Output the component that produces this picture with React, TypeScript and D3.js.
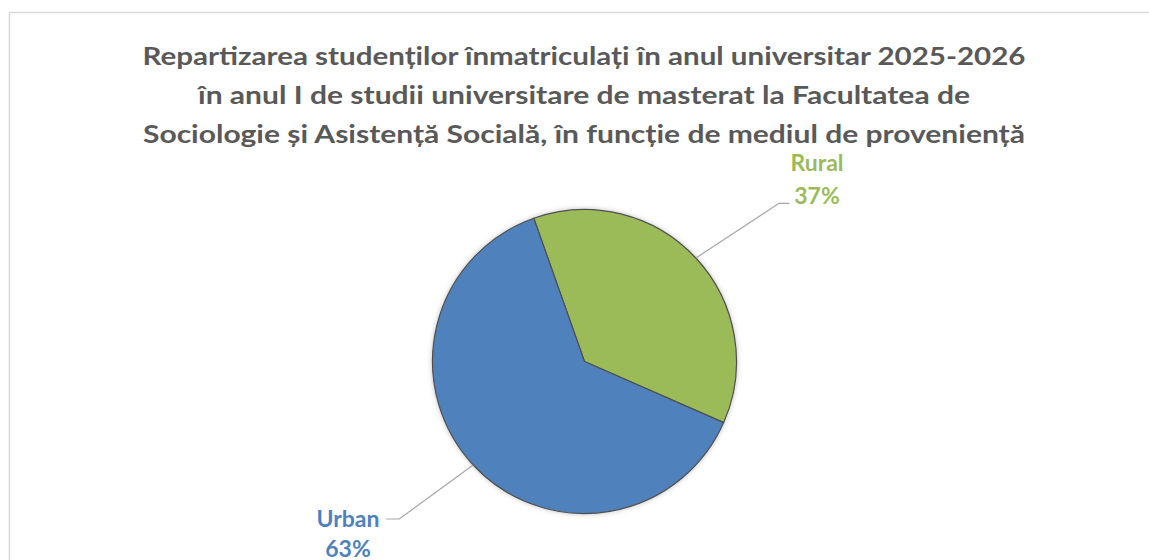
import React from "react";
import * as d3 from "d3";

const categories = ["Rural", "Urban"];
const values = [37, 63];
const labels = ["37%", "63%"];
const colors = ["#9BBB59", "#4F81BD"];
const titleLines = [
  "Repartizarea studenților înmatriculați în anul universitar 2025-2026",
  "în anul I de studii universitare de masterat la Facultatea de",
  "Sociologie și Asistență Socială, în funcție de mediul de proveniență",
];

const W = 1149;
const H = 560;
const cx = 584.5;
const cy = 361.5;
const R = 152;
const startDeg = -19.5;

export default function App() {
  const pie = d3
    .pie<number>()
    .sort(null)
    .startAngle((startDeg * Math.PI) / 180)
    .endAngle(((startDeg + 360) * Math.PI) / 180)(values);
  const arc = d3.arc<d3.PieArcDatum<number>>().innerRadius(0).outerRadius(R);

  const titleBaselines = [65, 104, 143];
  const titleWidths = [883, 772, 882];

  const labelLayout = [
    { elbow: [779, 203.3], end: [789.3, 203.3], tx: 817, ty1: 171, ty2: 204, w1: 57, w2: 46 },
    { elbow: [399.3, 519], end: [386, 519], tx: 348, ty1: 527, ty2: 557, w1: 66, w2: 47 },
  ];

  return (
    <svg
      width={W}
      height={H}
      style={{ position: "absolute", left: 0, top: 0, background: "#fff" }}
      fontFamily="Lato, 'Open Sans', sans-serif"
    >
      <defs>
        <filter id="sh" x="-20%" y="-20%" width="140%" height="140%">
          <feDropShadow dx="0" dy="0" stdDeviation="2.5" floodColor="#000" floodOpacity="0.25" />
        </filter>
      </defs>
      <rect x={9.5} y={12.5} width={1150} height={560} fill="#fff" stroke="#D9D9D9" strokeWidth={1.5} />
      {titleLines.map((t, i) => (
        <text
          key={i}
          x={584}
          y={titleBaselines[i]}
          textAnchor="middle"
          fontSize={24}
          fontWeight="bold"
          fill="#595959"
          textLength={titleWidths[i]}
          lengthAdjust="spacingAndGlyphs"
        >
          {t}
        </text>
      ))}
      <g transform={`translate(${cx},${cy})`} filter="url(#sh)">
        {pie.map((d, i) => (
          <path key={categories[i]} d={arc(d) || ""} fill={colors[i]} stroke="#505050" strokeWidth={1.2} strokeLinejoin="round" />
        ))}
      </g>
      {pie.map((d, i) => {
        const mid = (d.startAngle + d.endAngle) / 2;
        const sx = cx + Math.sin(mid) * R;
        const sy = cy - Math.cos(mid) * R;
        const L = labelLayout[i];
        return (
          <g key={"l" + i}>
            <polyline
              points={`${sx},${sy} ${L.elbow[0]},${L.elbow[1]} ${L.end[0]},${L.end[1]}`}
              fill="none"
              stroke="#A6A6A6"
              strokeWidth={1.2}
            />
            <text x={L.tx} y={L.ty1} textAnchor="middle" fontSize={23} fontWeight="bold" fill={colors[i]}>
              {categories[i]}
            </text>
            <text x={L.tx} y={L.ty2} textAnchor="middle" fontSize={23} fontWeight="bold" fill={colors[i]}>
              {labels[i]}
            </text>
          </g>
        );
      })}
    </svg>
  );
}
